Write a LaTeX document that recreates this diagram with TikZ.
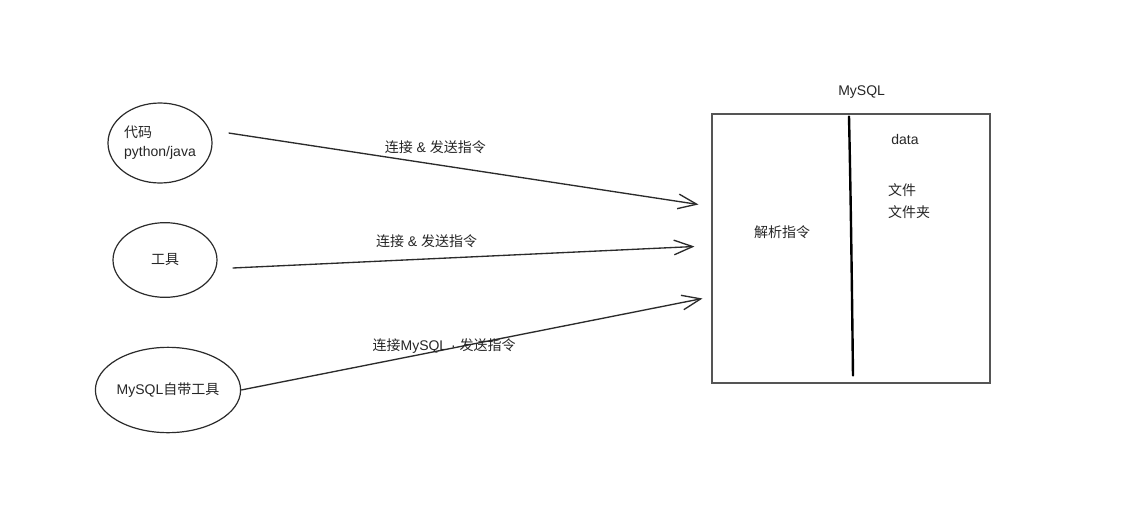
\documentclass[tikz,border=0pt]{standalone}
\usepackage{fontspec}
\setmainfont{Liberation Sans}
\newfontfamily\cjk{Noto Sans CJK SC}
\usepackage{tikz}
\usetikzlibrary{arrows.meta,calc,positioning,shapes.geometric}
\definecolor{sketchink}{HTML}{2B2B2B}
\definecolor{sketchframe}{HTML}{555555}
\definecolor{sketchtext}{HTML}{262626}
\tikzset{%
  sketchnode/.style={%
    ellipse,
    draw=sketchink,
    line width=0.9pt,
    inner sep=0pt,
    align=left,
    text=sketchtext,
    font=\fontsize{10.5}{14.25}\selectfont
  },
  sketchbox/.style={%
    draw=sketchframe,
    line width=0.8pt,
    inner sep=0pt
  },
  sketchlabel/.style={%
    inner sep=1pt,
    text=sketchtext,
    font=\fontsize{10.5}{16.5}\selectfont
  },
  sketcharrow/.style={-{Straight Barb[length=14pt,width=11pt]},draw=sketchink,line width=1pt},
  sketchdivider/.style={draw=black,line width=1.8pt,line cap=round}
}
\begin{document}
\begin{tikzpicture}[x=0.75pt,y=-0.75pt]
    \useasboundingbox[fill=white] (0,0) rectangle (1140,508);

    \node[sketchnode,minimum width=78pt,minimum height=60pt] (code) at (160,143) {{\cjk 代码}\\python/java};
    \node[sketchnode,minimum width=78pt,minimum height=56pt] (tool) at (165,260) {\cjk 工具};
    \node[sketchnode,minimum width=97pt,minimum height=64pt] (mysqltool) at (168,390) {MySQL{\cjk 自带工具}};

    \node[sketchbox,minimum width=208.5pt,minimum height=201.75pt] (mysql) at (851,248.5) {};
    \node[sketchlabel,above=10pt of mysql,xshift=8pt] (mysqltitle) {MySQL};
    \node[sketchlabel] (parse) at (782,232) {\cjk 解析指令};
    \node[sketchlabel] (data) at (905,139) {data};
    \node[sketchlabel,align=left] (files) at (909,201) {{\cjk 文件}\\{\cjk 文件夹}};

    \coordinate (divtop) at ($(mysql.north)+(-2,3)$);
    \coordinate (divbot) at ($(mysql.south)+(2,-8)$);
    \draw[sketchdivider] (divtop) .. controls ($(divtop)+(2,90)$) and ($(divbot)+(-1,-80)$) .. (divbot);

    \coordinate (tipa) at ($(mysql.west)+(-13,-44)$);
    \coordinate (tipb) at ($(mysql.west)+(-17,-2)$);
    \coordinate (tipc) at ($(mysql.west)+(-9,50)$);

    \draw[sketcharrow] ($(code.east)+(16,-10)$) -- (tipa)
      node[sketchlabel,pos=0.44,yshift=12.75pt] (senda) {{\cjk 连接} \& {\cjk 发送指令}};
    \draw[sketcharrow] ($(tool.east)+(15,8)$) -- (tipb)
      node[sketchlabel,pos=0.42,yshift=13.5pt] (sendb) {{\cjk 连接} \& {\cjk 发送指令}};
    \draw[sketcharrow] (mysqltool.east) -- (tipc)
      node[sketchlabel,pos=0.44,yshift=2.7pt] (sendc) {{\cjk 连接}MySQL · {\cjk 发送指令}};
\end{tikzpicture}
\end{document}
